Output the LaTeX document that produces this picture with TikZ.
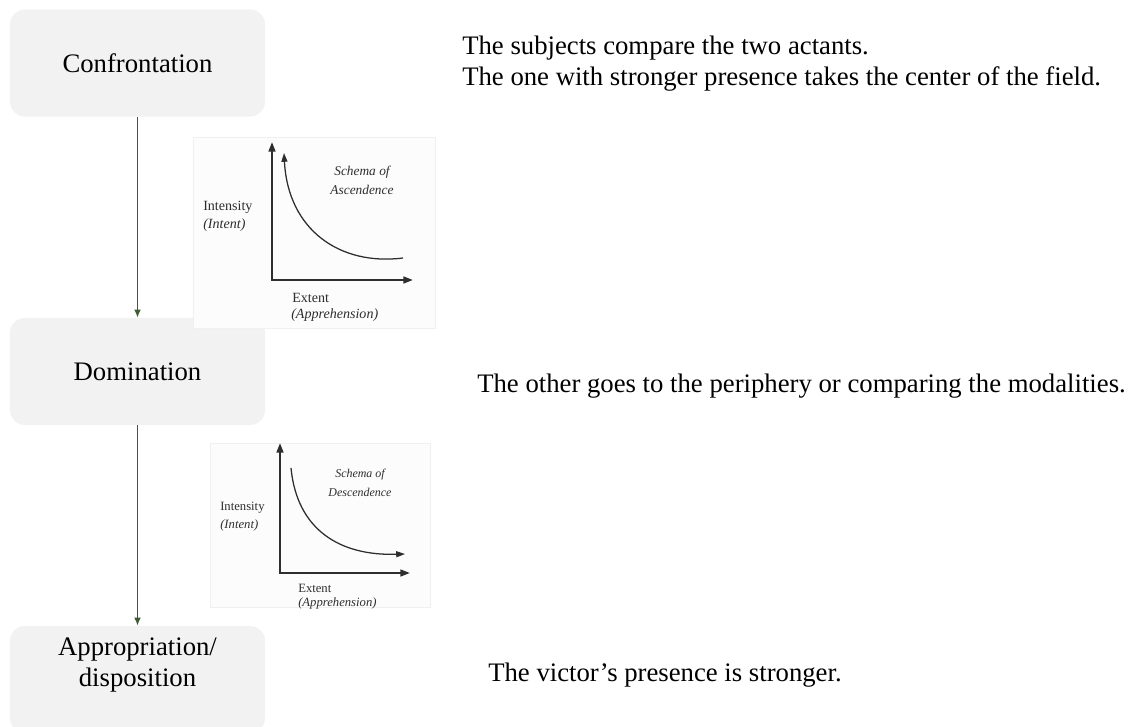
\documentclass[tikz,border=0pt]{standalone}
\usepackage{fontspec}
\setmainfont{Liberation Serif}
\usetikzlibrary{arrows.meta, positioning}
\definecolor{boxgray}{HTML}{F2F2F2}
\definecolor{flowgreen}{HTML}{3E5B34}
\definecolor{plotink}{HTML}{2E2E2E}
\definecolor{panelfill}{HTML}{FCFCFC}
\definecolor{panelrule}{HTML}{F0F0F0}
\tikzset{
    stage/.style = {rectangle, rounded corners=0.375cm, fill=boxgray, minimum width=6.375cm, minimum height=2.675cm, align=center, font=\fontsize{19}{21.5}\selectfont}, % the grey boxes on the left
    stagetext/.style = {align=center, inner sep=0pt, font=\fontsize{19}{21.5}\selectfont},
    note/.style = {anchor=base west, inner sep=0pt, font=\fontsize{19}{22}\selectfont}, % comments on the right
    flow/.style = {-{Latex[length=0.2cm,width=0.17cm]}, flowgreen, line width=1.1pt},
    panel/.style = {rectangle, anchor=north west, fill=panelfill, draw=panelrule, inner sep=0pt},
    axis/.style = {{Triangle[length=0.24cm,width=0.17cm]}-{Triangle[length=0.24cm,width=0.17cm]}, plotink, line width=1.4pt},
    curve/.style = {plotink, line width=0.9pt},
    plotlabel/.style = {anchor=west, inner sep=0pt, text=plotink, font=\fontsize{10}{11}\selectfont},
    plotname/.style = {inner sep=0pt, text=plotink, font=\fontsize{9.5}{11}\selectfont\itshape},
    smalllabel/.style = {plotlabel, font=\fontsize{9}{10}\selectfont},
    smallname/.style = {plotname, font=\fontsize{8.5}{10}\selectfont\itshape}
}
\begin{document}
\begin{tikzpicture}[x=0.025cm, y=-0.025cm]
    \useasboundingbox (0,0) rectangle (1134,727);
    \clip (0,0) rectangle (1134,727);

    % stages
    \node[stage] (conf) at (137.5,63) {Confrontation};
    \node[stage] (dom) at (137.5,371.5) {Domination};
    \node[stage] (appr) at (137.5,679.5) {};
    \node[stagetext] (apprtext) at (137.5,665) {Appropriation/\\disposition};

    \draw[flow] (conf) -- (dom);
    \draw[flow] (dom) -- (appr);

    % comments
    \node[note] (compare) at (462,55) {The subjects compare the two actants.};
    \node[note] (centre) at (462,86) {The one with stronger presence takes the center of the field.};
    \node[note] (periphery) at (477,393) {The other goes to the periphery or comparing the modalities.};
    \node[note] (victor) at (488,682) {The victor’s presence is stronger.};

    % schema of ascendence
    \node[panel, minimum width=6.05cm, minimum height=4.775cm] (panelA) at (193,137) {};
    \coordinate (ytopA) at (272,142);
    \coordinate (xendA) at (413,280);
    \coordinate (startA) at (403,258);
    \coordinate (endA) at (284,153);
    \draw[axis] (ytopA) |- (xendA);
    \draw[curve, -{Triangle[length=0.22cm,width=0.15cm]}] (startA) .. controls (340,266) and (288,230) .. (endA);
    \node[plotname] (schemaA) at (362,172) {Schema of};
    \node[plotname] (ascA) at (362,190) {Ascendence};
    \node[plotlabel] (intA) at (203,207) {Intensity};
    \node[plotlabel] (intentA) at (203,225) {\itshape (Intent)};
    \node[plotlabel] (extA) at (292,298) {Extent};
    \node[plotlabel] (appA) at (291,315) {\itshape (Apprehension)};

    % schema of descendence
    \node[panel, minimum width=5.5cm, minimum height=4.1cm] (panelB) at (210,443) {};
    \coordinate (ytopB) at (280,443);
    \coordinate (xendB) at (410,573);
    \coordinate (startB) at (291,468);
    \coordinate (endB) at (405,554);
    \draw[axis] (ytopB) |- (xendB);
    \draw[curve, -{Triangle[length=0.22cm,width=0.15cm]}] (startB) .. controls (297,530) and (340,556) .. (endB);
    \node[smallname] (schemaB) at (360,475) {Schema of};
    \node[smallname] (descB) at (360,492) {Descendence};
    \node[smalllabel] (intB) at (220,508) {Intensity};
    \node[smalllabel] (intentB) at (220,525) {\itshape (Intent)};
    \node[smalllabel] (extB) at (298,588) {Extent};
    \node[smalllabel] (appB) at (298,603) {\itshape (Apprehension)};
\end{tikzpicture}
\end{document}
